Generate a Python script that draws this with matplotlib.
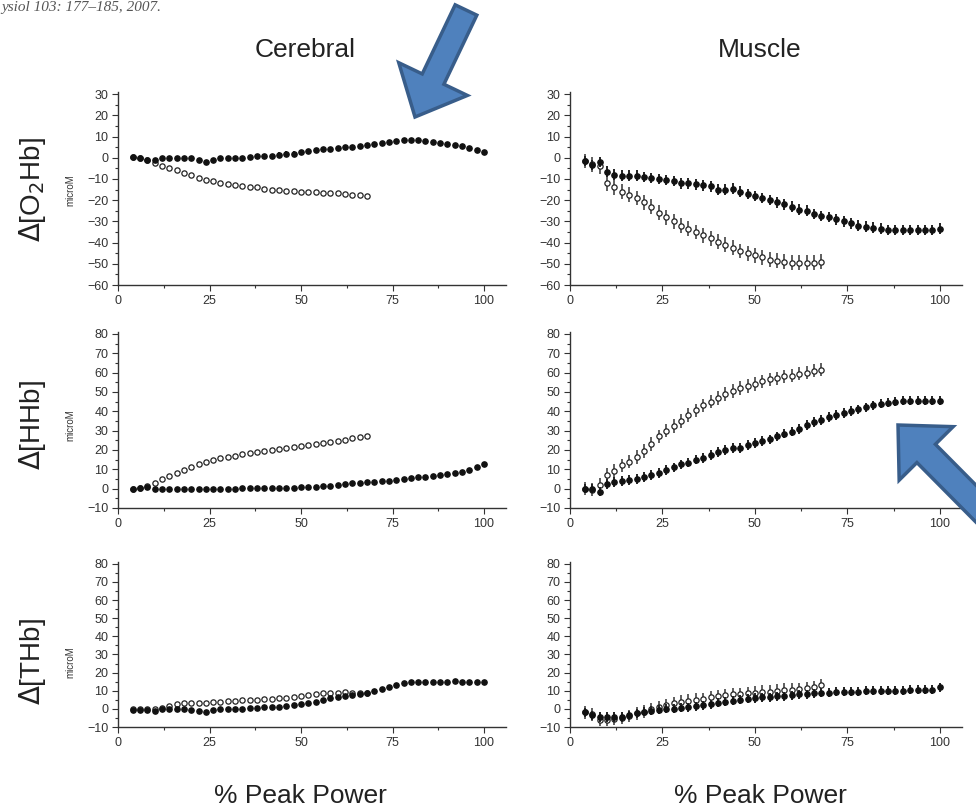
import matplotlib
matplotlib.use("Agg")
import matplotlib.pyplot as plt
from matplotlib.patches import FancyArrow
from matplotlib.ticker import MultipleLocator

plt.rcParams['font.family'] = ['Liberation Sans', 'DejaVu Sans']

# % peak power positions
x_full = [4, 6, 8, 10, 12, 14, 16, 18, 20, 22, 24, 26, 28, 30, 32, 34, 36, 38, 40, 42, 44, 46, 48, 50,
          52, 54, 56, 58, 60, 62, 64, 66, 68, 70, 72, 74, 76, 78, 80, 82, 84, 86, 88, 90, 92, 94, 96, 98, 100]
x_open = [4, 6, 8, 10, 12, 14, 16, 18, 20, 22, 24, 26, 28, 30, 32, 34, 36, 38, 40, 42, 44, 46, 48, 50,
          52, 54, 56, 58, 60, 62, 64, 66, 68]

# cerebral
cer_o2hb_filled = [0.5, 0, -1, -1, 0, 0, 0, 0, 0, -1, -2, -1, 0, 0, 0, 0, 0.5, 1, 1, 1, 1.5, 2, 2, 2.5,
                   3, 3.5, 4, 4, 4.5, 5, 5, 5.5, 6, 6.5, 7, 7.5, 8, 8.5, 8.5, 8.5, 8, 7.5, 7, 6.5, 6, 5.5, 4.5, 3.5, 2.5]
cer_o2hb_open = [0.5, 0, -1, -2.5, -4, -5, -6, -7, -8, -9.5, -10.5, -11, -12, -12.5, -13, -13.5, -14, -14,
                 -14.5, -15, -15, -15.5, -15.5, -16, -16, -16, -16.5, -16.5, -16.5, -17, -17.5, -17.5, -18]
cer_hhb_filled = [0, 0.5, 1, 0, 0, 0, 0, 0, 0, 0, 0, 0, 0, 0, 0, 0.5, 0.5, 0.5, 0.5, 0.5, 0.5, 0.5, 0.5, 1,
                  1, 1, 1.5, 1.5, 2, 2.5, 3, 3, 3.5, 3.5, 4, 4, 4.5, 5, 5.5, 6, 6, 6.5, 7, 7.5, 8, 8.5, 9.5, 11, 13]
cer_hhb_open = [0, 0.5, 1.5, 3, 5, 6.5, 8, 9.5, 11, 12.5, 14, 15, 16, 16.5, 17, 18, 18.5, 19, 19.5, 20, 20.5,
                21, 21.5, 22, 22.5, 23, 23.5, 24, 24.5, 25, 26, 26.5, 27]
cer_thb_filled = [-0.5, -0.5, -0.5, -1, 0, 0, 0, 0, -0.5, -1, -1.5, -0.5, 0, 0, 0, 0, 0.5, 0.5, 1, 1, 1, 1.5, 2, 2.5,
                  3, 4, 5, 6, 6.5, 7, 7.5, 8, 8.5, 10, 11, 12, 13, 14.5, 15, 15, 15, 15, 15, 15, 15.5, 15, 15, 15, 15]
cer_thb_open = [0, 0, 0, 0, 0.5, 1.5, 2.5, 3, 3, 3.5, 3.5, 4, 4, 4.5, 4.5, 5, 5, 5, 5.5, 5.5, 6, 6, 6.5, 7,
                7.5, 8, 8.5, 9, 9, 9.5, 9, 9, 9]

# muscle
mus_o2hb_filled = [-1.5, -3.5, -2, -6.5, -8, -8.5, -8.5, -8.5, -9, -9.5, -10, -10.5, -11, -12, -12, -12.5, -13,
                   -13.5, -15, -15, -14.5, -16, -17, -18, -19, -20, -21, -22, -23, -24.5, -25, -26.5, -27.5, -28,
                   -29, -30, -31, -32, -32.5, -33, -33.5, -34, -34, -34, -34, -34, -34, -34, -33.5]
mus_o2hb_open = [-1.5, -3, -4, -12, -14, -16, -17.5, -19, -21, -23, -26, -28, -30, -32, -33.5, -35, -36.5, -38,
                 -39.5, -41, -42.5, -44, -45, -46, -47, -48, -48.5, -49, -49.5, -49.5, -49.5, -49.5, -49]
mus_hhb_filled = [0, 0, -1.5, 2.5, 3.5, 4, 4.5, 5, 6, 7, 8, 9.5, 11, 12.5, 13.5, 15, 16, 17.5, 19, 20, 21, 21,
                  22.5, 23.5, 24.5, 25.5, 27, 28.5, 29.5, 31, 33, 34.5, 35.5, 37, 38, 39, 40, 41, 42, 43, 44,
                  44.5, 45, 45.5, 45.5, 45.5, 45.5, 45.5, 45.5]
mus_hhb_open = [0, -0.5, 2, 7, 9, 12, 14, 16.5, 19.5, 23, 27, 30, 32.5, 35, 38, 40.5, 43, 45, 47, 49, 50.5, 52,
                53, 54, 55.5, 56.5, 57, 58, 58.5, 59.5, 60, 61, 61.5]
mus_thb_filled = [-2, -3.5, -4.5, -4.5, -4.5, -4.5, -3.5, -2.5, -1.5, -1, -0.5, 0, 0, 0.5, 1, 1.5, 2, 2.5, 3.5,
                  4, 4.5, 5, 5.5, 6, 6.5, 6.5, 7, 7, 7.5, 8, 8, 8.5, 9, 9, 9.5, 9.5, 9.5, 9.5, 10, 10, 10, 10,
                  10, 10, 10.5, 10.5, 10.5, 10.5, 12]
mus_thb_open = [-2, -3, -6, -6, -5.5, -5, -4, -2.5, -1.5, 0, 1, 2, 3, 4, 4.5, 5, 5.5, 6.5, 7, 7.5, 8, 8, 8.5, 9,
                9.5, 9.5, 10, 10.5, 10.5, 11, 11.5, 12, 13]

# error bar half-widths per series (filled, open)
cer_err = (1.0, 0.8)
mus_err = (2.5, 3.5)

col_titles = ["Cerebral", "Muscle"]
row_labels = [r"$\Delta$[O$_2$Hb]", r"$\Delta$[HHb]", r"$\Delta$[THb]"]
x_ticks = [0, 25, 50, 75, 100]

W, H = 976, 808
fig = plt.figure(figsize=(W / 100, H / 100), dpi=100)


def px_axes(left, top, right, bottom):
    return fig.add_axes([left / W, 1 - bottom / H, (right - left) / W, (bottom - top) / H])


rows_px = [(92, 285), (332, 508), (562, 727)]
cols_px = [(118, 506, 106), (570, 962, 106)]
ylims = [(-60, 30), (-10, 80), (-10, 80)]
data = [
    [(cer_o2hb_filled, cer_o2hb_open), (mus_o2hb_filled, mus_o2hb_open)],
    [(cer_hhb_filled, cer_hhb_open), (mus_hhb_filled, mus_hhb_open)],
    [(cer_thb_filled, cer_thb_open), (mus_thb_filled, mus_thb_open)],
]

for r, (top, bottom) in enumerate(rows_px):
    for c, (left, right, xmax) in enumerate(cols_px):
        ax = px_axes(left, top, right, bottom)
        filled, opened = data[r][c]
        err = cer_err if c == 0 else mus_err
        ax.errorbar(x_open, opened, yerr=err[1], fmt='o', ms=3.8, mfc='white', mec='#222222', mew=0.9,
                    ecolor='#444444', elinewidth=1.2, capsize=0, zorder=3)
        ax.errorbar(x_full, filled, yerr=err[0], fmt='o', ms=3.8, mfc='#111111', mec='#111111',
                    ecolor='#222222', elinewidth=1.4, capsize=0, zorder=4)
        ax.set_xlim(0, xmax)
        ax.set_ylim(ylims[r][0], ylims[r][1] + 1)
        ax.set_yticks(range(ylims[r][0], ylims[r][1] + 1, 10))
        ax.set_xticks(x_ticks)
        ax.xaxis.set_minor_locator(MultipleLocator(12.5))
        ax.yaxis.set_minor_locator(MultipleLocator(5))
        for s in ('top', 'right'):
            ax.spines[s].set_visible(False)
        for s in ('left', 'bottom'):
            ax.spines[s].set_color('#333333')
            ax.spines[s].set_linewidth(1.0)
        ax.tick_params(which='major', direction='out', length=4, width=0.8, colors='#333333',
                       labelsize=9, labelcolor='#333333', pad=3)
        ax.tick_params(which='minor', direction='out', length=2, width=0.8, colors='#333333')
        ax.patch.set_alpha(0)

# column titles and x labels
for c, (left, right, xmax) in enumerate(cols_px):
    cx = [305, 760][c]
    fig.text(cx / W, 1 - 50 / H, col_titles[c], ha='center', va='center', fontsize=19, color='#222222')
for cx in (300, 760):
    fig.text(cx / W, 1 - 796 / H, "% Peak Power", ha='center', va='center', fontsize=19, color='#222222')

# row labels
for r, yc in enumerate([190, 425, 662]):
    fig.text(32 / W, 1 - yc / H, row_labels[r], rotation=90, ha='center', va='center', fontsize=20, color='#222222')
    fig.text(70 / W, 1 - yc / H, "microM", rotation=90, ha='center', va='center', fontsize=7, color='#333333')

# citation fragment at the top edge
fig.text(1 / W, 1 - 1 / H, "ysiol 103: 177\u2013185, 2007.", ha='left', va='top',
         fontsize=11, style='italic', family='Liberation Serif', color='#555555')

# overlay for the two blue arrows, in pixel units
ov = fig.add_axes([0, 0, 1, 1])
ov.set_xlim(0, W)
ov.set_ylim(H, 0)
ov.axis('off')
ov.add_patch(FancyArrow(466, 10, -51, 107, width=24, head_width=76, head_length=42,
                        length_includes_head=True, fc='#4F81BD', ec='#385D8A', lw=2.5))
ov.add_patch(FancyArrow(1010, 538, -112, -113, width=26, head_width=76, head_length=40,
                        length_includes_head=True, fc='#4F81BD', ec='#385D8A', lw=2.5, clip_on=True))

fig.savefig("out.png", dpi=100)
